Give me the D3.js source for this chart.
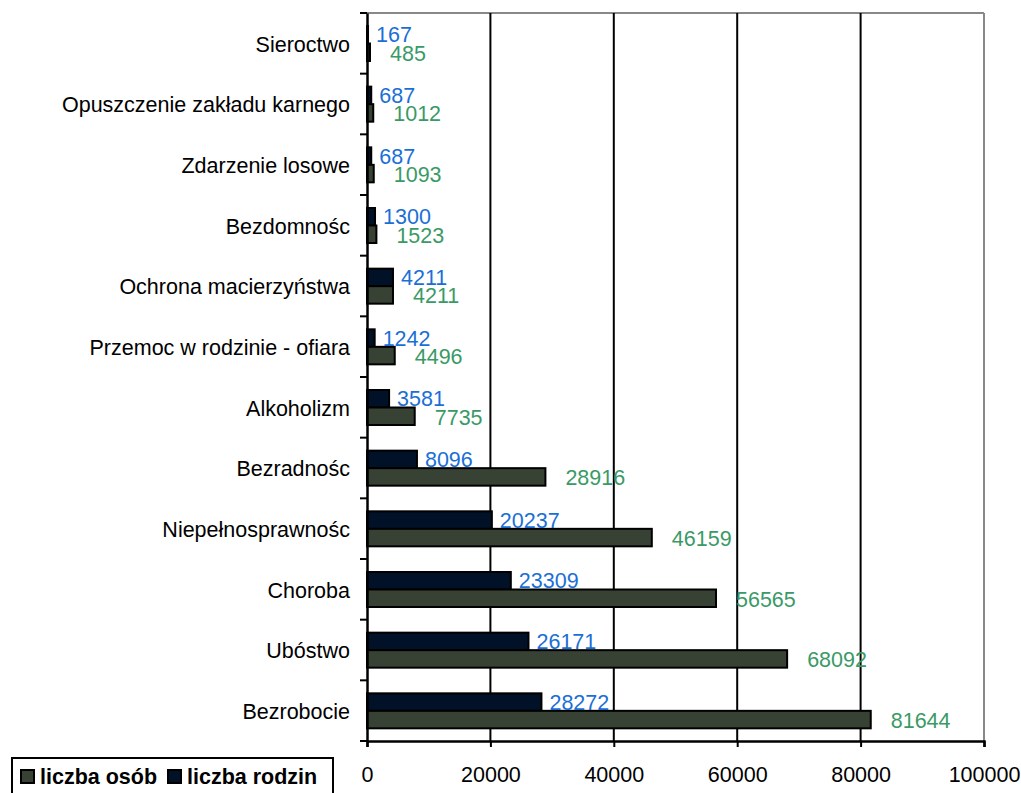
<!DOCTYPE html>
<html><head><meta charset="utf-8">
<script src="https://cdn.jsdelivr.net/npm/d3@7"></script>
<style>body{margin:0;background:#fff}svg{display:block;font-family:"Liberation Sans",Arial,sans-serif}</style>
</head><body><svg id="c" width="1021" height="793"></svg>
<script>
const categories = ["Sieroctwo","Opuszczenie zakładu karnego","Zdarzenie losowe","Bezdomnośc","Ochrona macierzyństwa","Przemoc w rodzinie - ofiara","Alkoholizm","Bezradnośc","Niepełnosprawnośc","Choroba","Ubóstwo","Bezrobocie"];
const liczbaRodzin = [167,687,687,1300,4211,1242,3581,8096,20237,23309,26171,28272];
const liczbaOsob = [485,1012,1093,1523,4211,4496,7735,28916,46159,56565,68092,81644];
const xTicks = [0,20000,40000,60000,80000,100000];
const seriesNames = ["liczba osób","liczba rodzin"];

const svg = d3.select("#c");
const L=367,R=984,T=13,B=741;
const FS=21.5;
const x = d3.scaleLinear().domain([0,100000]).range([L,R]);
const y = d3.scaleBand().domain(categories).range([T,B]);
const bh = 17.5, off = 13;
const cRod="#001128", cOs="#374234", tRod="#1a6fd6", tOs="#3a9a66";

// frame
svg.append("line").attr("x1",L).attr("x2",R).attr("y1",T).attr("y2",T).attr("stroke","#888").attr("stroke-width",2);
svg.append("line").attr("x1",R).attr("x2",R).attr("y1",T).attr("y2",B).attr("stroke","#888").attr("stroke-width",2);
// gridlines
svg.append("g").selectAll("line").data(xTicks.slice(1,-1)).join("line")
  .attr("x1",d=>x(d)).attr("x2",d=>x(d)).attr("y1",T).attr("y2",B).attr("stroke","#000").attr("stroke-width",2);

// bars
const g = svg.append("g");
g.selectAll("rect.r").data(categories).join("rect").attr("class","r")
  .attr("x",x(0)).attr("y",d=>y(d)+off).attr("height",bh)
  .attr("width",(d,i)=>x(liczbaRodzin[i])-x(0)).attr("fill",cRod).attr("stroke","#000").attr("stroke-width",2);
g.selectAll("rect.o").data(categories).join("rect").attr("class","o")
  .attr("x",x(0)).attr("y",d=>y(d)+off+bh).attr("height",bh)
  .attr("width",(d,i)=>x(liczbaOsob[i])-x(0)).attr("fill",cOs).attr("stroke","#000").attr("stroke-width",2);

// labels
g.selectAll("text.r").data(categories).join("text").attr("class","r")
  .attr("x",(d,i)=>x(liczbaRodzin[i])+8).attr("y",d=>y(d)+off+bh/2+7.5)
  .attr("font-size",FS).attr("fill",tRod).text((d,i)=>liczbaRodzin[i]);
g.selectAll("text.o").data(categories).join("text").attr("class","o")
  .attr("x",(d,i)=>x(liczbaOsob[i])+20).attr("y",d=>y(d)+off+bh*1.5+8.5)
  .attr("font-size",FS).attr("fill",tOs).text((d,i)=>liczbaOsob[i]);

// y axis
const ya = svg.append("g").attr("transform",`translate(${L},0)`)
  .call(d3.axisLeft(y).tickSize(0).tickPadding(17));
ya.select(".domain").attr("stroke","#000").attr("stroke-width",2.5);
ya.selectAll("text").attr("font-size",FS).attr("fill","#000").attr("font-family","Liberation Sans, Arial, sans-serif").attr("dy","0.38em");
svg.append("g").selectAll("line").data(d3.range(13)).join("line")
  .attr("x1",L-7).attr("x2",L).attr("y1",i=>T+i*y.step()).attr("y2",i=>T+i*y.step()).attr("stroke","#000").attr("stroke-width",2);

// x axis
const xa = svg.append("g").attr("transform",`translate(0,${B})`)
  .call(d3.axisBottom(x).tickValues(xTicks).tickSize(6).tickPadding(20).tickFormat(d3.format("d")));
xa.select(".domain").attr("stroke","#000").attr("stroke-width",2.5);
xa.selectAll(".tick line").attr("stroke","#000").attr("stroke-width",2);
xa.selectAll("text").attr("font-size",FS).attr("fill","#000").attr("font-family","Liberation Sans, Arial, sans-serif");

// legend
const lg = svg.append("g");
lg.append("rect").attr("x",12).attr("y",758).attr("width",321).attr("height",45).attr("fill","#fff").attr("stroke","#000").attr("stroke-width",2);
const lx=[20,167], lc=[cOs,cRod];
seriesNames.forEach((n,i)=>{
  lg.append("rect").attr("x",lx[i]+1).attr("y",770).attr("width",13).attr("height",13).attr("fill",lc[i]).attr("stroke","#000").attr("stroke-width",2);
  lg.append("text").attr("x",lx[i]+20).attr("y",784).attr("font-size",FS).attr("font-weight","bold").text(n);
});
</script></body></html>
